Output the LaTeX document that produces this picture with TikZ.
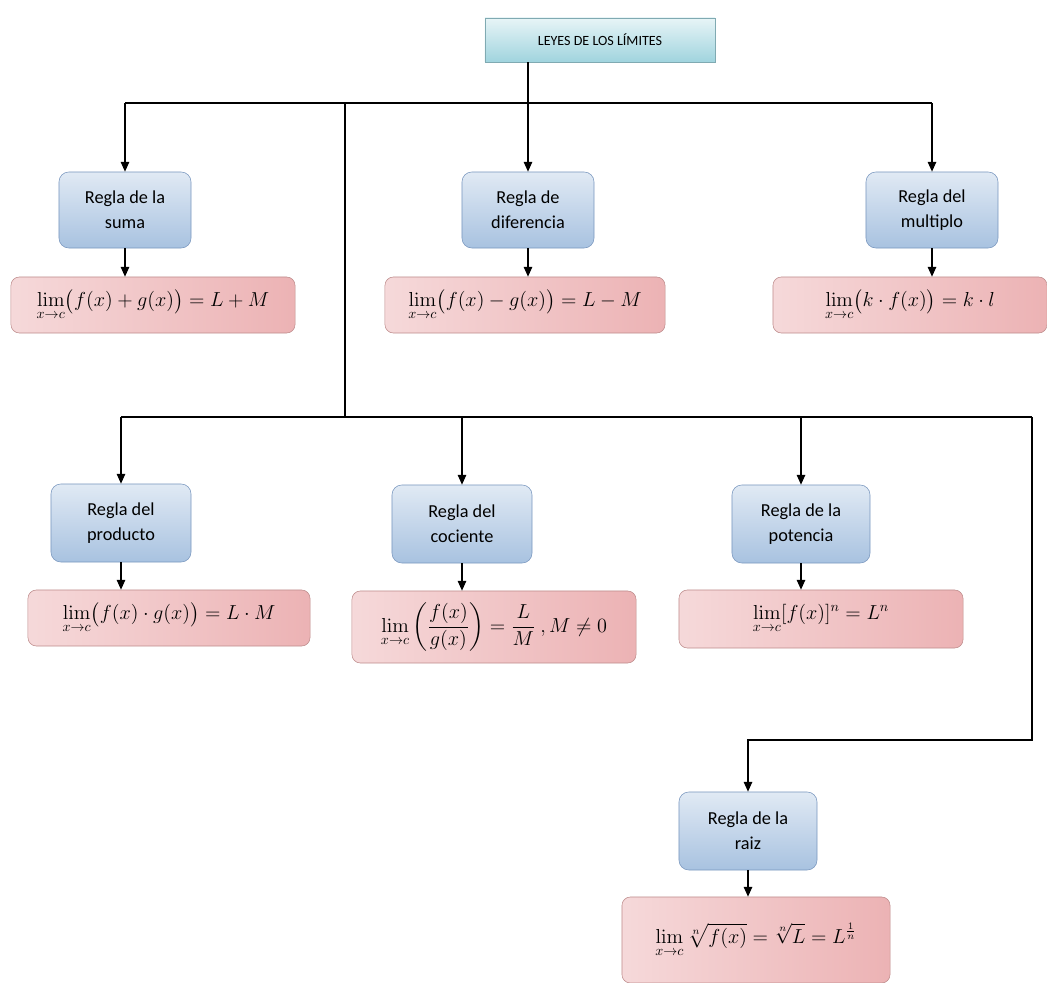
\documentclass[tikz,border=0pt]{standalone}
\usepackage{amsmath}
\usepackage[no-math]{fontspec}
\setmainfont{Carlito}
\definecolor{reglaBlue}{RGB}{168, 194, 224}
\definecolor{reglaEdge}{RGB}{120, 150, 190}
\definecolor{formRed}{RGB}{234, 170, 172}
\definecolor{formEdge}{RGB}{190, 140, 140}
\definecolor{tituloCyan}{RGB}{160, 212, 222}
\usetikzlibrary{arrows.meta, positioning, calc}

\begin{document}
\begin{tikzpicture}[x=0.025cm, y=-0.025cm,
    regla/.style={draw=reglaEdge, rounded corners=7pt, minimum width=3.3cm, minimum height=1.9cm,
                  align=center, font=\fontsize{13}{15}\selectfont, top color=reglaBlue!35, bottom color=reglaBlue},
    formula/.style={draw=formEdge, rounded corners=6pt, minimum width=7cm, minimum height=1.4cm,
                    align=center, font=\Large, left color=formRed!45, right color=formRed!90},
    titulo/.style={draw=tituloCyan!80!black, minimum width=5.75cm, minimum height=1.1cm,
                   font=\normalsize, top color=tituloCyan!25, bottom color=tituloCyan},
    arr/.style={-{Triangle[length=7pt,width=6pt]}, line width=1pt}
  ]
    \useasboundingbox (0,0) rectangle (1047,983);

    \node[titulo] (titulo) at (600,40) {LEYES DE LOS LÍMITES};

    % primera fila
    \node[regla] (suma) at (125,210) {Regla de la\\[3pt] suma};
    \node[regla] (diferencia) at (528,210) {Regla de\\[3pt] diferencia};
    \node[regla] (multiplo) at (932,210) {Regla del\\[3pt] multiplo};

    \node[formula, minimum width=7.1cm] (fsuma) at (153,305)
      {$\displaystyle\lim_{x\to c}\bigl(f(x)+g(x)\bigr)=L+M$};
    \node[formula] (fdiferencia) at (525,305)
      {$\displaystyle\lim_{x\to c}\bigl(f(x)-g(x)\bigr)=L-M$};
    \node[formula, minimum width=6.85cm] (fmultiplo) at (910,305)
      {$\displaystyle\lim_{x\to c}\bigl(k\cdot f(x)\bigr)=k\cdot l$};

    % segunda fila
    \node[regla, minimum width=3.5cm, minimum height=1.95cm] (producto) at (121,523) {Regla del\\[3pt] producto};
    \node[regla, minimum width=3.5cm, minimum height=1.95cm] (cociente) at (462,524) {Regla del\\[3pt] cociente};
    \node[regla, minimum width=3.45cm, minimum height=1.95cm] (potencia) at (801,524) {Regla de la\\[3pt] potencia};

    \node[formula, minimum width=7.05cm] (fproducto) at (169,618)
      {$\displaystyle\lim_{x\to c}\bigl(f(x)\cdot g(x)\bigr)=L\cdot M$};
    \node[formula, minimum width=7.1cm, minimum height=1.8cm] (fcociente) at (494,627)
      {$\displaystyle\lim_{x\to c}\left(\frac{f(x)}{g(x)}\right)=\frac{L}{M}\ ,M\neq 0$};
    \node[formula, minimum width=7.1cm, minimum height=1.45cm] (fpotencia) at (821,619)
      {$\displaystyle\lim_{x\to c}[f(x)]^n=L^n$};

    % raiz
    \node[regla, minimum width=3.45cm, minimum height=1.95cm] (raiz) at (748,831) {Regla de la\\[3pt] raiz};
    \node[formula, minimum width=6.7cm, minimum height=2.15cm] (fraiz) at (756,940)
      {$\displaystyle\lim_{x\to c}\sqrt[n]{f(x)}=\sqrt[n]{L}=L^{\frac{1}{n}}$};

    % conectores
    \coordinate (bus1) at (345,103);
    \coordinate (bus2) at (345,417);
    \coordinate (esq) at (1032,417);
    \coordinate (esq2) at (1032,740);

    \draw[arr] (titulo.south -| diferencia) -- (diferencia);
    \draw[line width=1pt] (suma |- bus1) -- (multiplo |- bus1);
    \draw[arr] (suma |- bus1) -- (suma);
    \draw[arr] (multiplo |- bus1) -- (multiplo);
    \draw[line width=1pt] (bus1) -- (bus2);

    \draw[line width=1pt] (producto |- bus2) -- (esq);
    \foreach \n in {producto, cociente, potencia}
      \draw[arr] (\n |- bus2) -- (\n);
    \draw[arr] (esq) -- (esq2) -| (raiz);

    \foreach \n in {suma, diferencia, multiplo, producto, cociente, potencia, raiz}
      \draw[arr] (\n.south) -- (\n.south |- f\n.north);
  \end{tikzpicture}
\end{document}
